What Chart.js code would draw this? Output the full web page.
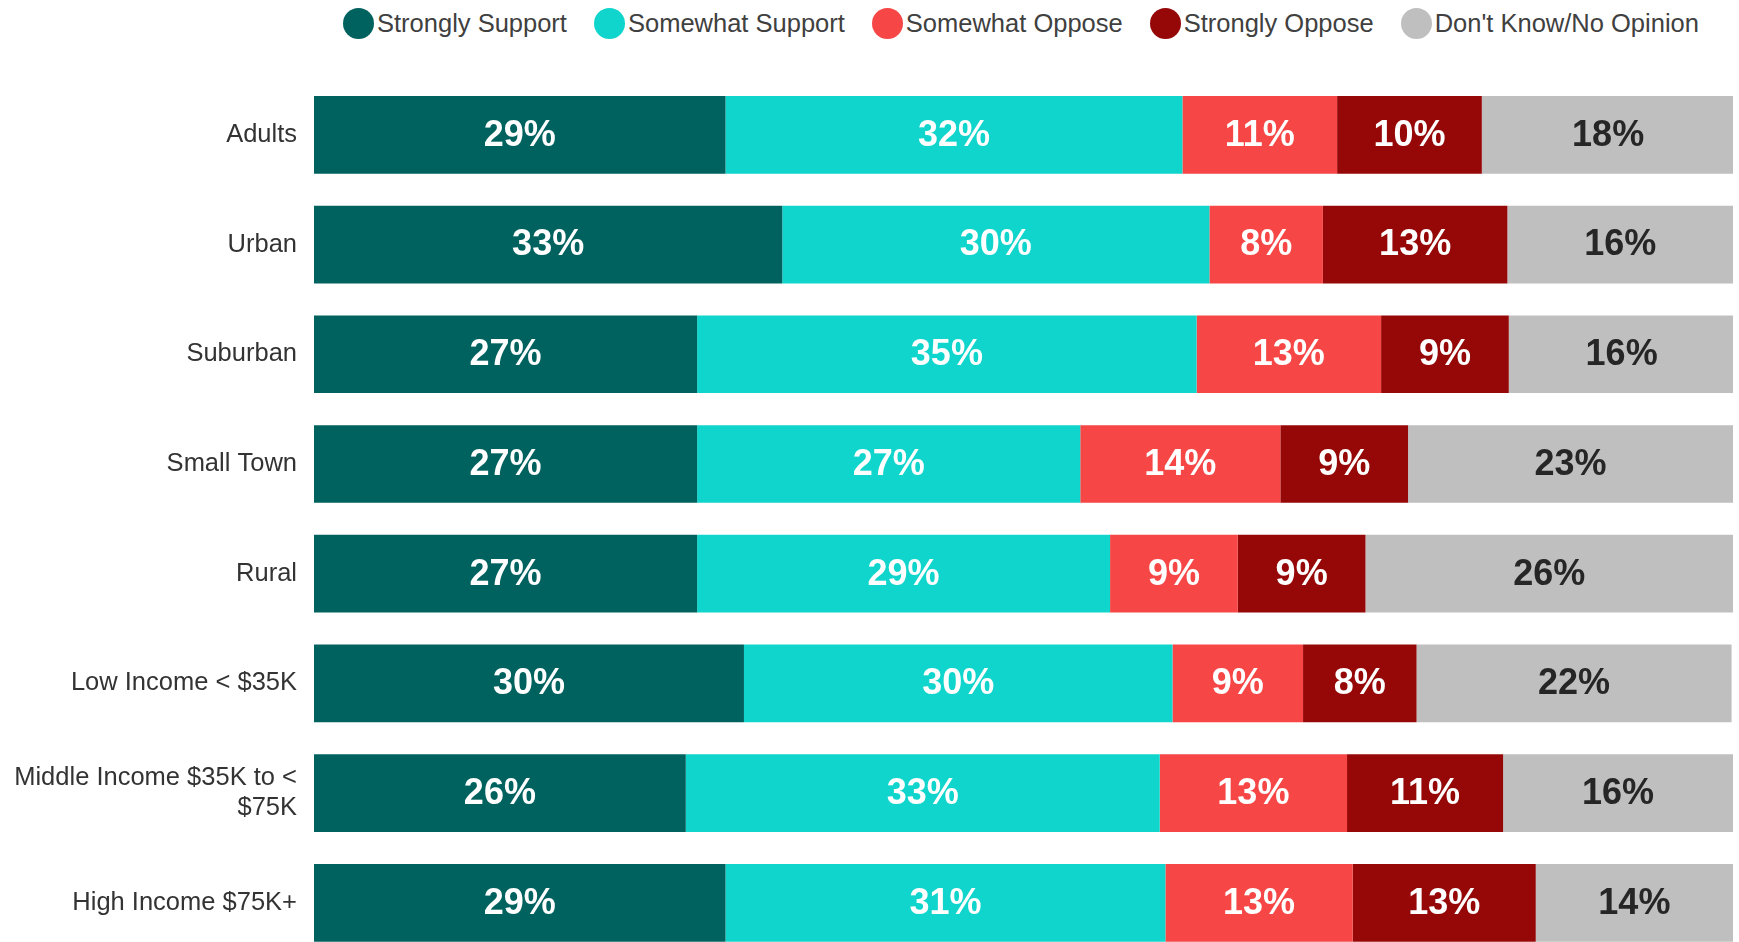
<!DOCTYPE html>
<html>
<head>
<meta charset="utf-8">
<script src="https://cdn.jsdelivr.net/npm/chart.js@4/dist/chart.umd.min.js"></script>
<style>
  html, body { margin: 0; padding: 0; background: #fff; overflow: hidden; }
  body { width: 1739px; height: 942px; position: relative; font-family: "Liberation Sans", Arial, sans-serif; }
  #legend { position: absolute; left: 343px; top: 8px; display: flex; align-items: center; white-space: nowrap; width: 1500px; }
  #legend .item { display: flex; align-items: center; margin-right: 27px; flex-shrink: 0; }
  #legend .dot { width: 31px; height: 31px; border-radius: 50%; margin-right: 3px; flex-shrink: 0; }
  #legend .txt { font-size: 25.5px; color: #404040; }
  #wrap { position: absolute; left: 0; top: 0; width: 1739px; height: 990px; }
</style>
</head>
<body>
<div id="legend"></div>
<div id="wrap"><canvas id="myChart"></canvas></div>
<script>
// categories (y axis)
const categories = [
  'Adults', 'Urban', 'Suburban', 'Small Town', 'Rural',
  'Low Income < $35K', ['Middle Income $35K to <', '$75K'], 'High Income $75K+'
];

// series (percent)
const seriesNames = ['Strongly Support', 'Somewhat Support', 'Somewhat Oppose', 'Strongly Oppose', "Don't Know/No Opinion"];
const stronglySupport = [29.0, 33.0, 27.0, 27.0, 27.0, 30.3, 26.2, 29.0];
const somewhatSupport = [32.2, 30.1, 35.2, 27.0, 29.1, 30.2, 33.4, 31.0];
const somewhatOppose  = [10.9, 8.0, 13.0, 14.1, 9.0, 9.2, 13.2, 13.2];
const stronglyOppose  = [10.2, 13.0, 9.0, 9.0, 9.0, 8.0, 11.0, 12.9];
const dontKnow        = [17.8, 15.9, 15.9, 22.9, 25.9, 22.2, 16.2, 13.9];

const colors = ['#00625F', '#10D5CC', '#F64646', '#960808', '#BFBFBF'];
const labelColors = ['#fff', '#fff', '#fff', '#fff', '#262626'];

// html legend
let legend = document.getElementById('legend');
seriesNames.forEach((name, i) => {
  let item = document.createElement('div');
  item.className = 'item';
  item.innerHTML = '<span class="dot" style="background:' + colors[i] + '"></span><span class="txt"></span>';
  item.querySelector('.txt').textContent = name;
  legend.appendChild(item);
});

// draw the percent labels in the middle of each segment
const segLabels = {
  id: 'segLabels',
  afterDatasetsDraw(chart) {
    const ctx = chart.ctx;
    ctx.save();
    ctx.font = 'bold 36px "Liberation Sans", Arial, sans-serif';
    ctx.textAlign = 'center';
    ctx.textBaseline = 'middle';
    chart.data.datasets.forEach((ds, di) => {
      const meta = chart.getDatasetMeta(di);
      meta.data.forEach((bar, i) => {
        const v = ds.data[i];
        ctx.fillStyle = labelColors[di];
        ctx.fillText(Math.round(v) + '%', (bar.x + bar.base) / 2, bar.y + 1);
      });
    });
    ctx.restore();
  }
};

const allSeries = [stronglySupport, somewhatSupport, somewhatOppose, stronglyOppose, dontKnow];

new Chart(document.getElementById('myChart'), {
  type: 'bar',
  data: {
    labels: categories,
    datasets: allSeries.map((d, i) => ({
      label: seriesNames[i],
      data: d,
      backgroundColor: colors[i],
      borderWidth: 0,
      barPercentage: 1,
      categoryPercentage: 0.708
    }))
  },
  options: {
    indexAxis: 'y',
    responsive: true,
    maintainAspectRatio: false,
    animation: false,
    layout: { padding: { top: 80, right: 6, bottom: 0, left: 0 } },
    plugins: {
      legend: { display: false },
      tooltip: { enabled: false }
    },
    scales: {
      x: {
        stacked: true,
        min: 0,
        max: 100,
        display: false
      },
      y: {
        stacked: true,
        grid: { display: false, drawTicks: false },
        border: { display: false },
        ticks: {
          color: '#333',
          padding: 17,
          font: { family: '"Liberation Sans", Arial, sans-serif', size: 25.5 }
        },
        afterFit(axis) { axis.width = 314; }
      }
    }
  },
  plugins: [segLabels]
});
</script>
</body>
</html>
